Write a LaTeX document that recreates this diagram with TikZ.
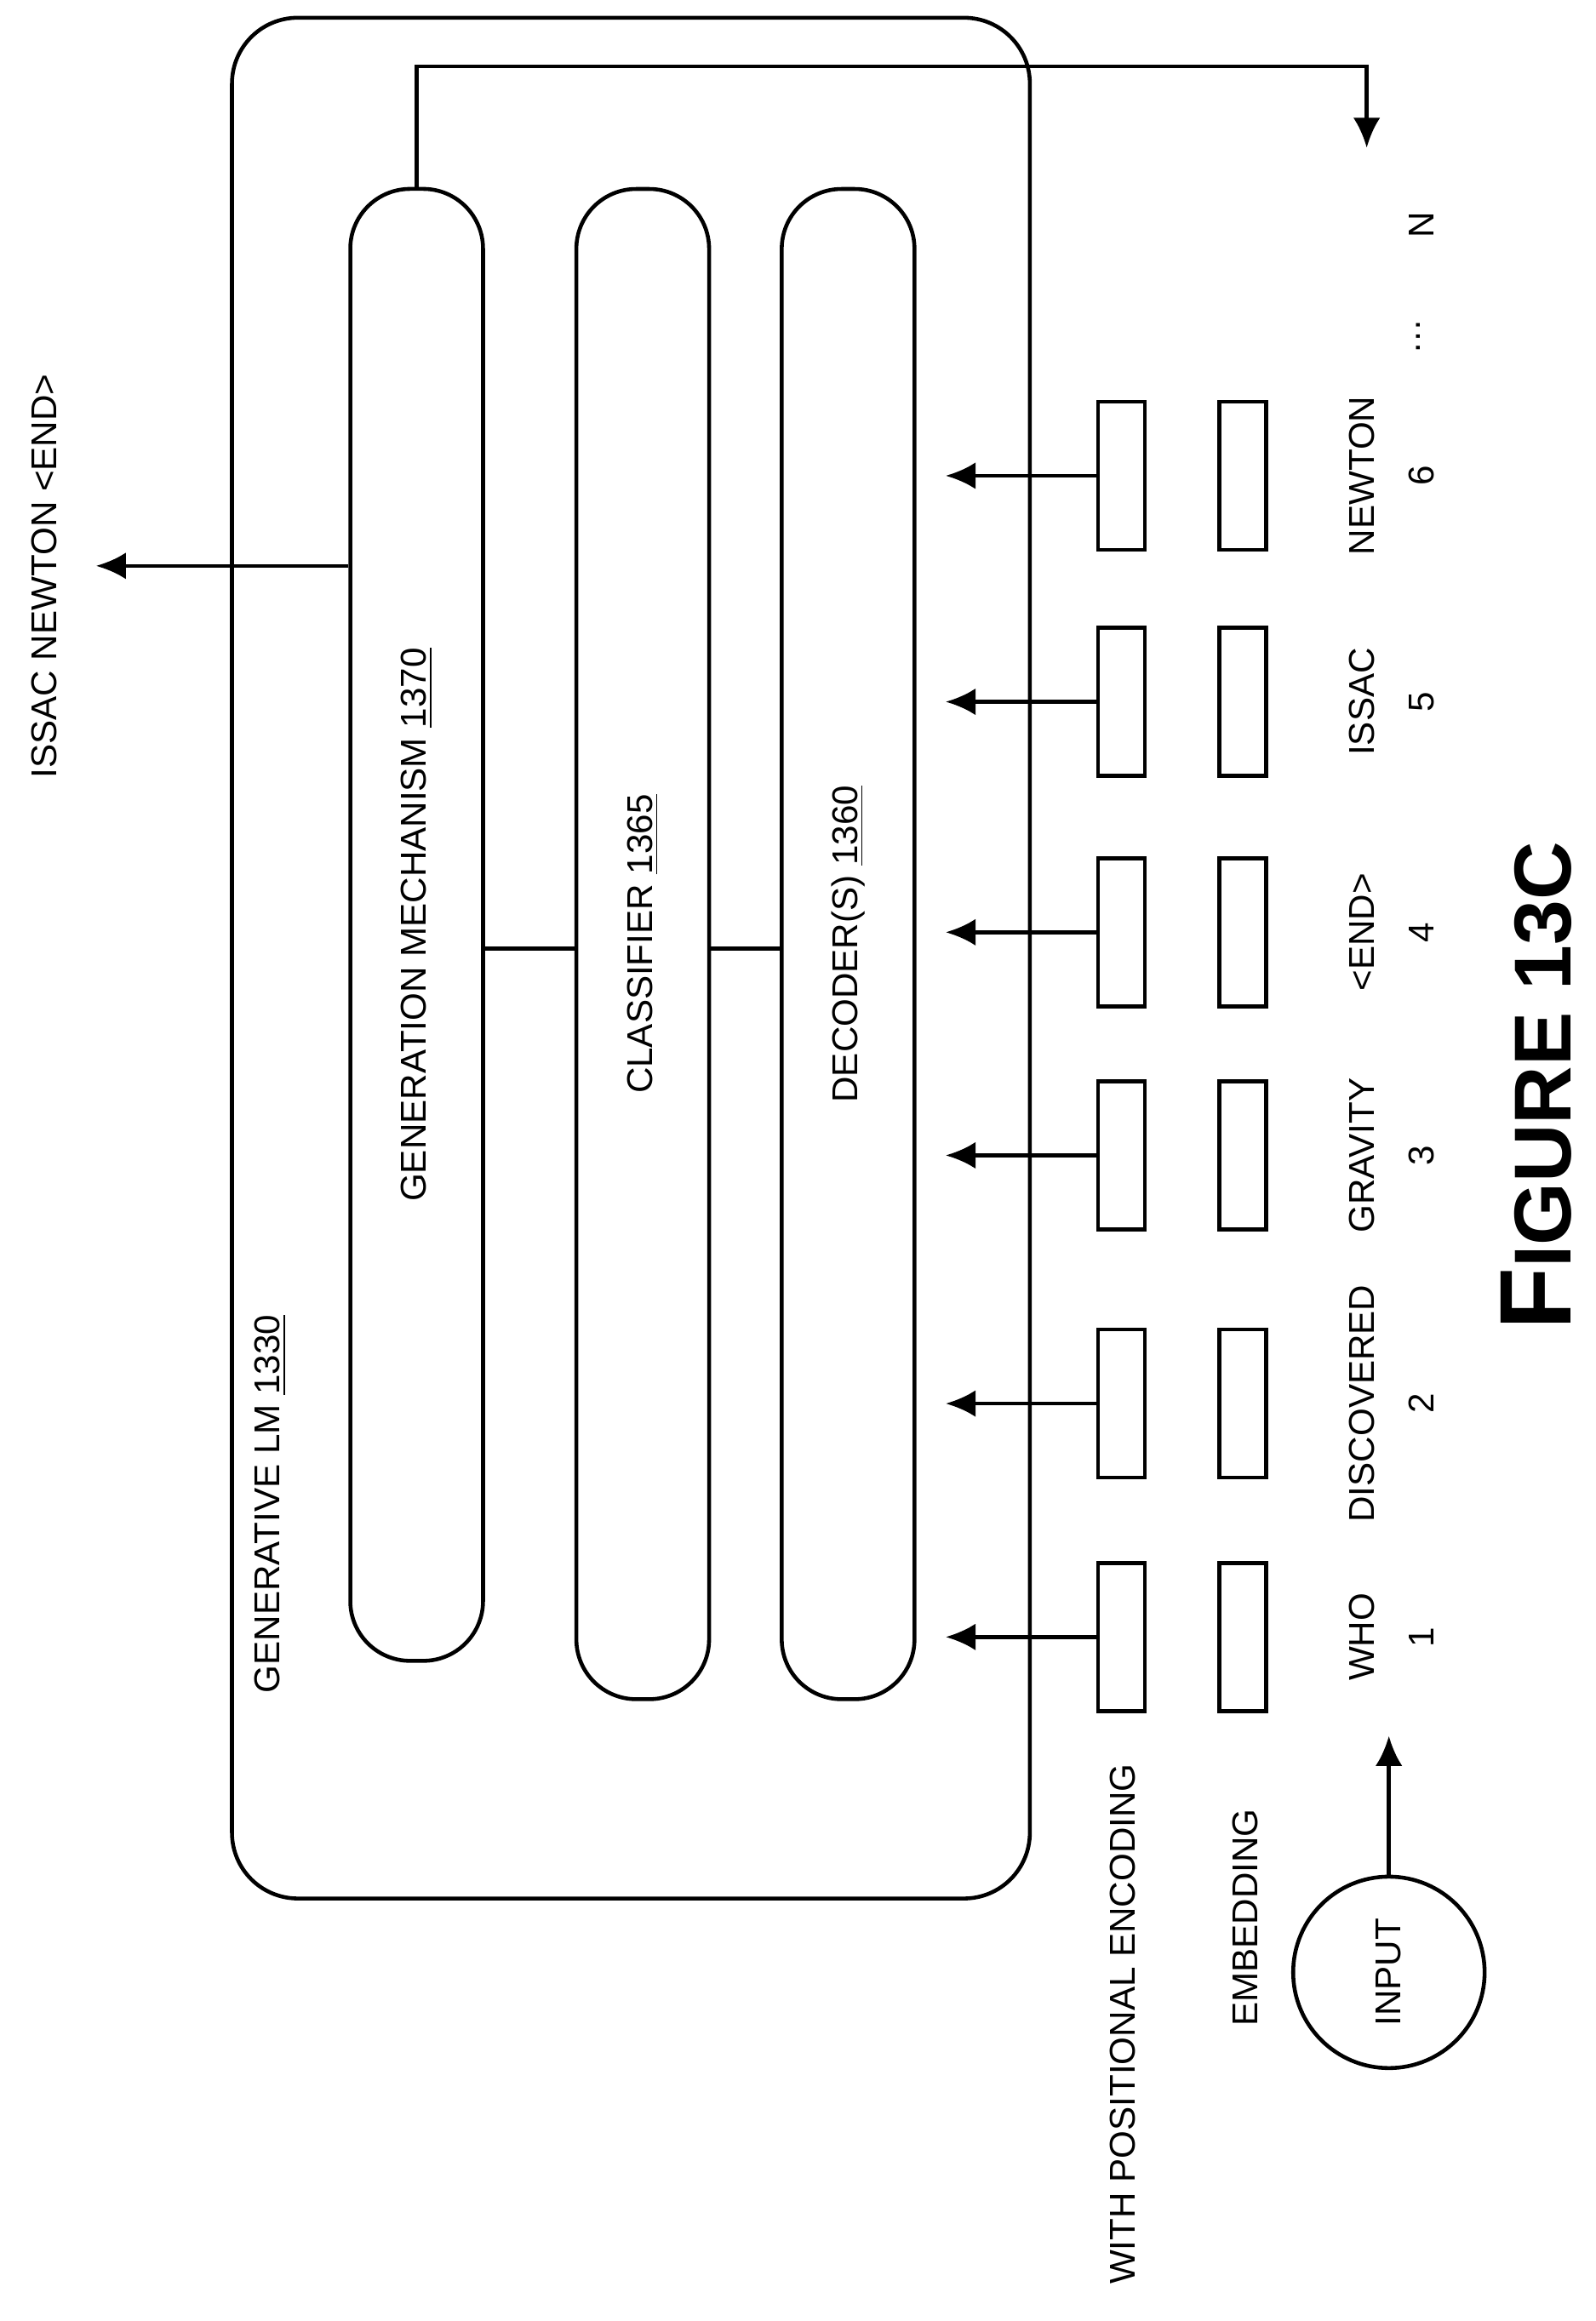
\documentclass[tikz,border=0pt]{standalone}
\usepackage{fontspec}
\setmainfont{Liberation Sans}
\usetikzlibrary{arrows.meta}

\begin{document}
\begin{tikzpicture}[x=0.01736cm,y=-0.01736cm,font=\fontsize{12}{14}\selectfont,
                    line width=1.3pt,
                    bar/.style={draw,rounded corners=20pt,minimum width=1.56cm,minimum height=17.3cm},
                    token box/.style={draw,minimum width=0.55cm,minimum height=1.74cm,inner sep=0},
                    label/.style={rotate=90,inner sep=1pt},
                    flow/.style={-{Latex[length=10pt,width=9pt]}}]
  \useasboundingbox (0,0) rectangle (1080,1571);
  \draw[rounded corners=22pt] (157,12) rectangle (697,1285);
  \node[label] (lm) at (183,1018) {GENERATIVE LM \underline{1330}};

  \node[bar] (gen) at (282,626) {};
  \node[bar,minimum height=17.75cm] (cls) at (435,639) {};
  \node[bar,minimum height=17.75cm] (dec) at (574,639) {};
  \node[label] at (gen) {GENERATION MECHANISM \underline{1370}};
  \node[label] at (cls) {CLASSIFIER \underline{1365}};
  \node[label] at (dec) {DECODER(S) \underline{1360}};
  \draw (gen.east |- 0,642) -- (cls.west |- 0,642);
  \draw (cls.east |- 0,642) -- (dec.west |- 0,642);

  \coordinate (out) at (65,383);
  \draw[flow] (gen.west |- 0,383) -- (out);
  \node[label] at (30,390) {ISSAC NEWTON <END>};

  \coordinate (loop) at (925,100);
  \draw[flow] (gen.north) -- (gen.north |- 0,45) -- (925,45) -- (loop);

  % tokens
  \foreach \word/\num/\y in {WHO/1/1108,DISCOVERED/2/950,GRAVITY/3/782,<END>/4/631,ISSAC/5/475,NEWTON/6/322}{
    \node[token box] (pos\num) at (759,\y) {};
    \node[token box] (emb\num) at (841,\y) {};
    \coordinate (in\num) at (640,\y);
    \draw[flow] (pos\num.west) -- (in\num);
    \node[label] (w\num) at (922,\y) {\word};
    \node[label] (n\num) at (962,\y) {\num};
  }
  \node[label] (dots) at (960,228) {\dots};
  \node[label] (nn) at (962,152) {N};

  \node[draw,circle,minimum size=2.25cm] (input) at (940,1335) {};
  \node[label] at (input) {INPUT};
  \draw[flow] (input.north) -- (input.north |- 0,1175);
  \node[label] (pe) at (760,1370) {WITH POSITIONAL ENCODING};
  \node[label] (embl) at (843,1298) {EMBEDDING};

  \node[label,font=\bfseries] (fig) at (1040,735) {\fontsize{34}{36}\selectfont F\fontsize{27}{30}\selectfont IGURE 13C};
\end{tikzpicture}
\end{document}
